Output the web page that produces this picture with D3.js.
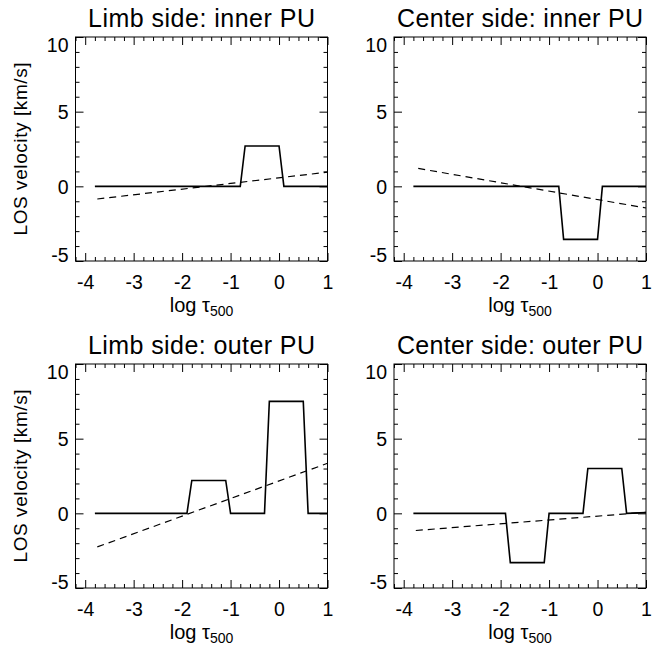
<!DOCTYPE html>
<html>
<head>
<meta charset="utf-8">
<script src="https://cdn.jsdelivr.net/npm/d3@7"></script>
<style>
  body { margin: 0; background: #fff; }
  text { font-family: "Liberation Sans", Arial, sans-serif; fill: #000; }
</style>
</head>
<body>
<div id="chart"></div>
<script>
// --------------------------------------
//  Data
// --------------------------------------

const titles = [
  "Limb side: inner PU",
  "Center side: inner PU",
  "Limb side: outer PU",
  "Center side: outer PU"
];

const xTicks = [-4, -3, -2, -1, 0, 1];
const yTicks = [-5, 0, 5, 10];

// inner PU: step profile (solid) and linear fit (dashed)
const innerSolidX = [-3.8, -0.8, -0.7, 0.0, 0.1, 1.0];
const limbInnerSolidY = [0, 0, 2.7, 2.7, 0, 0];
const centerInnerSolidY = [0, 0, -3.55, -3.55, 0, 0];

const limbInnerDashX = [-3.75, 1.0];
const limbInnerDashY = [-0.85, 0.95];
const centerInnerDashX = [-3.7, 1.0];
const centerInnerDashY = [1.2, -1.45];

// outer PU
const outerSolidX = [-3.8, -1.9, -1.8, -1.1, -1.0, -0.3, -0.2, 0.5, 0.6, 1.0];
const limbOuterSolidY = [0, 0, 2.2, 2.2, 0, 0, 7.5, 7.5, 0, 0];
const centerOuterSolidY = [0, 0, -3.3, -3.3, 0, 0, 3.0, 3.0, 0, 0.05];

const limbOuterDashX = [-3.75, 1.0];
const limbOuterDashY = [-2.25, 3.35];
const centerOuterDashX = [-3.75, 1.0];
const centerOuterDashY = [-1.15, 0.07];

const solids = [
  [innerSolidX, limbInnerSolidY],
  [innerSolidX, centerInnerSolidY],
  [outerSolidX, limbOuterSolidY],
  [outerSolidX, centerOuterSolidY]
];
const dashes = [
  [limbInnerDashX, limbInnerDashY],
  [centerInnerDashX, centerInnerDashY],
  [limbOuterDashX, limbOuterDashY],
  [centerOuterDashX, centerOuterDashY]
];

// --------------------------------------
//  Canvas
// --------------------------------------

const W = 663, H = 647;
const pw = 252, ph = 224;
const lefts = [75.5, 394];
const tops = [37, 364];

const svg = d3.select("#chart")
  .append("svg")
  .attr("width", W)
  .attr("height", H);

svg.append("rect").attr("width", W).attr("height", H).attr("fill", "#fff");

const x = d3.scaleLinear().domain([-4.2, 1]).range([0, pw]);
const y = d3.scaleLinear().domain([-5, 10]).range([ph, 0]);

const xMinor = d3.range(-4.2, 1.001, 0.2).map(v => +v.toFixed(1)).filter(v => !xTicks.includes(v));
const yMinor = d3.range(-5, 10.001, 1).filter(v => !yTicks.includes(v));

// plain hyphen for negatives, like the original
const fmt = d => String(d);

const line = d3.line().x(d => x(d[0])).y(d => y(d[1]));

titles.forEach((title, i) => {
  const col = i % 2, row = Math.floor(i / 2);
  const g = svg.append("g")
    .attr("transform", `translate(${lefts[col]},${tops[row]})`);

  // minor ticks (inward, all sides)
  g.append("g").attr("transform", `translate(0,${ph})`)
    .call(d3.axisBottom(x).tickValues(xMinor).tickSize(-4).tickFormat(""));
  g.append("g")
    .call(d3.axisTop(x).tickValues(xMinor).tickSize(-4).tickFormat(""));
  g.append("g")
    .call(d3.axisLeft(y).tickValues(yMinor).tickSize(-4).tickFormat(""));
  g.append("g").attr("transform", `translate(${pw},0)`)
    .call(d3.axisRight(y).tickValues(yMinor).tickSize(-4).tickFormat(""));

  // major ticks
  g.append("g").attr("transform", `translate(0,${ph})`)
    .call(d3.axisBottom(x).tickValues(xTicks).tickSize(-8).tickPadding(14).tickFormat(fmt));
  g.append("g")
    .call(d3.axisTop(x).tickValues(xTicks).tickSize(-8).tickFormat(""));
  const yl = g.append("g")
    .call(d3.axisLeft(y).tickValues(yTicks).tickSize(-8).tickPadding(7).tickFormat(fmt));
  g.append("g").attr("transform", `translate(${pw},0)`)
    .call(d3.axisRight(y).tickValues(yTicks).tickSize(-8).tickFormat(""));

  g.selectAll(".domain").remove();
  g.selectAll(".tick line").attr("stroke", "#000");
  g.selectAll(".tick text")
    .attr("font-size", 19.5)
    .attr("font-family", "Liberation Sans, Arial, sans-serif");
  yl.selectAll(".tick text")
    .attr("dy", d => d === 10 ? "0.72em" : d === -5 ? "0em" : "0.36em");

  // frame
  g.append("rect")
    .attr("width", pw).attr("height", ph)
    .attr("fill", "none").attr("stroke", "#000").attr("stroke-width", 1);

  // curves
  const [sx, sy] = solids[i];
  g.append("path")
    .datum(sx.map((v, k) => [v, sy[k]]))
    .attr("d", line)
    .attr("fill", "none").attr("stroke", "#000").attr("stroke-width", 1.6);

  const [dx, dy] = dashes[i];
  g.append("path")
    .datum(dx.map((v, k) => [v, dy[k]]))
    .attr("d", line)
    .attr("fill", "none").attr("stroke", "#000").attr("stroke-width", 1.2)
    .attr("stroke-dasharray", "7,5");

  // title
  g.append("text")
    .attr("x", pw / 2).attr("y", -10)
    .attr("text-anchor", "middle")
    .attr("font-size", 25)
    .attr("textLength", col === 0 ? 227 : 246)
    .attr("lengthAdjust", "spacing")
    .text(title);

  // x label
  const xl = g.append("text")
    .attr("x", pw / 2).attr("y", ph + 51)
    .attr("text-anchor", "middle")
    .attr("font-size", 20);
  xl.append("tspan").text("log τ");
  xl.append("tspan").attr("font-size", 14).attr("dy", 4).text("500");

  // y label
  if (col === 0) {
    g.append("text")
      .attr("transform", `translate(${27 - lefts[0]},${ph / 2}) rotate(-90)`)
      .attr("text-anchor", "middle")
      .attr("font-size", 19)
      .attr("textLength", 173)
      .attr("lengthAdjust", "spacing")
      .text("LOS velocity [km/s]");
  }
});
</script>
</body>
</html>
